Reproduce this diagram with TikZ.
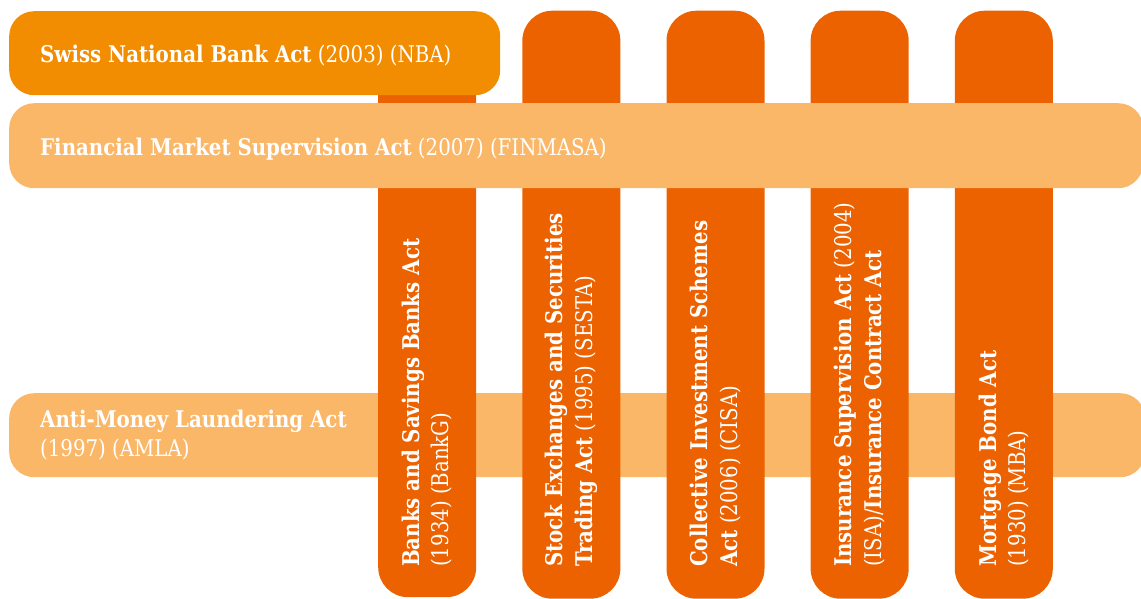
\documentclass[tikz,border=0pt]{standalone}
\usepackage{fontspec}
\setmainfont{DejaVu Serif}[FakeStretch=0.86]
\usetikzlibrary{positioning}
\definecolor{snbcol}{RGB}{242,140,0}
\definecolor{lightcol}{RGB}{250,183,104}
\definecolor{darkcol}{RGB}{236,98,0}
\tikzset{
  bar/.style={rounded corners=25pt, inner sep=0pt, anchor=north west},
  col/.style={bar, fill=darkcol, minimum width=98pt, minimum height=588pt, rounded corners=30pt},
  lbl/.style={text=white, inner sep=0pt, font=\fontsize{23}{29.5}\selectfont, align=left},
  vlbl/.style={lbl, rotate=90, anchor=west}
}

\begin{document}
\begin{tikzpicture}[x=1pt,y=1pt]
  \useasboundingbox (0,0) rectangle (1141,-598);
  \coordinate (textline) at (0,-567);

  \node[bar, fill=lightcol, minimum width=1136pt, minimum height=84pt] (amla) at (9,-393) {};
  \node[col, minimum height=585pt] (bankg) at (378,-12) {};
  \node[col, right=45.75pt of bankg] (sesta) {};
  \node[col, right=45.75pt of sesta] (cisa) {};
  \node[col, right=45.75pt of cisa] (isa) {};
  \node[col, right=45.75pt of isa] (mba) {};
  \node[bar, fill=lightcol, minimum width=1134pt, minimum height=85pt] (finmasa) at (9,-103) {};
  \node[bar, fill=snbcol, minimum width=491pt, minimum height=84pt] (snb) at (9,-11) {};

  % horizontal labels
  \node[lbl, anchor=base west] (snbtxt) at ([xshift=31pt,yshift=-9pt]snb.west) {\textbf{Swiss National Bank Act} (2003) (NBA)};
  \node[lbl, anchor=base west] (finmasatxt) at ([xshift=31pt,yshift=-9.5pt]finmasa.west) {\textbf{Financial Market Supervision Act} (2007) (FINMASA)};
  \node[lbl, anchor=west] (amlatxt) at ([xshift=31pt]amla.west) {\textbf{Anti-Money Laundering Act}\\(1997) (AMLA)};

  % vertical labels
  \node[vlbl] (bankgtxt) at (bankg |- textline) {\textbf{Banks and Savings Banks Act}\\(1934) (BankG)};
  \node[vlbl] (sestatxt) at (sesta |- textline) {\textbf{Stock Exchanges and Securities}\\\textbf{Trading Act} (1995) (SESTA)};
  \node[vlbl] (cisatxt) at (cisa |- textline) {\textbf{Collective Investment Schemes}\\\textbf{Act} (2006) (CISA)};
  \node[vlbl] (isatxt) at (isa |- textline) {\textbf{Insurance Supervision Act} (2004)\\(ISA)/\textbf{Insurance Contract Act}};
  \node[vlbl] (mbatxt) at (mba |- textline) {\textbf{Mortgage Bond Act}\\(1930) (MBA)};
\end{tikzpicture}
\end{document}
